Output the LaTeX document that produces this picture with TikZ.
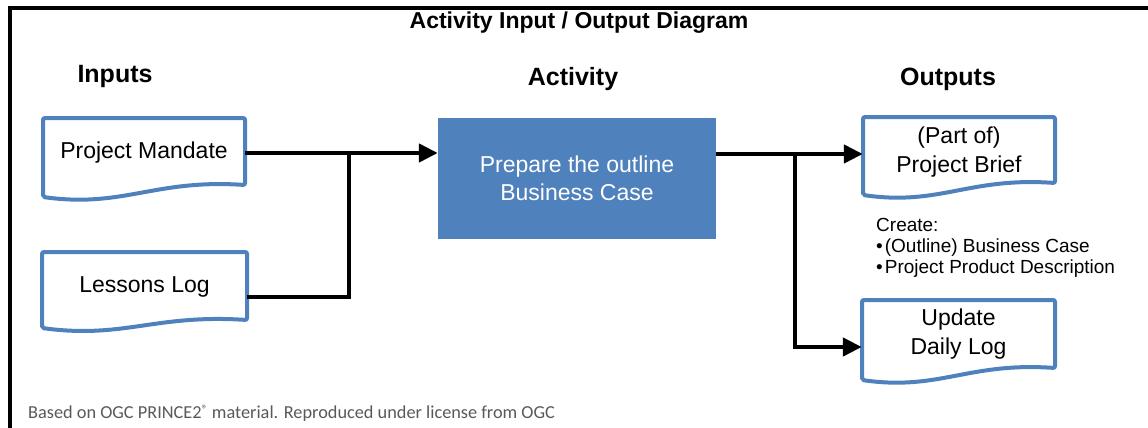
\documentclass[tikz,border=0pt]{standalone}
\usepackage{fontspec}
\setmainfont{Liberation Sans}
\newfontfamily\notefont{Carlito}
\usetikzlibrary{arrows.meta,calc}
\definecolor{docblue}{HTML}{4F81BD}
\definecolor{notegray}{HTML}{595959}
\tikzset{
  doctext/.style={inner sep=0pt, align=center, font=\fontsize{23}{29}\selectfont, text=black},
  docline/.style={draw=docblue, line width=4pt, rounded corners=2pt, fill=white},
  conn/.style={line width=4.5pt, draw=black},
  arr/.style={conn, -{Triangle[length=19pt,width=18pt]}},
  heading/.style={font=\bfseries\fontsize{25}{29}\selectfont, inner sep=0pt},
}
\newcommand{\docshape}[5]{% left, top, right, bottom-right, bottom-left
  \draw[docline] (#1,#2) -- (#3,#2) -- (#3,#4)
    .. controls ({#3-0.45*(#3-#1)},{#4-6}) and ({#1+0.4*(#3-#1)},{#5+11}) .. (#1,#5) -- cycle;
}
\begin{document}
\begin{tikzpicture}[x=1pt,y=-1pt]
\useasboundingbox (0,0) rectangle (1148,428);
% frame
\draw[line width=4pt, black] (10,428) -- (10,8) -- (1150,8);
% title
\node[font=\bfseries\fontsize{23}{27}\selectfont, inner sep=0pt] (title) at (579,23) {Activity Input / Output Diagram};
\node[heading] (hin) at (115,76) {Inputs};
\node[heading] (hact) at (573,79) {Activity};
\node[heading] (hout) at (948,79) {Outputs};
% input documents
\docshape{43}{118}{245}{185}{197}
\node[doctext, minimum width=202pt, minimum height=67pt] (pm) at (144,153) {Project Mandate};
\docshape{42}{252}{247}{320}{328}
\node[doctext, minimum width=205pt, minimum height=68pt] (ll) at (144.5,287) {Lessons Log};
% activity
\node[fill=docblue, minimum width=278pt, minimum height=121pt, inner sep=0pt, align=center,
      text=white, font=\fontsize{23}{28}\selectfont] (act) at (577,178) {Prepare the outline\\Business Case};
% output documents
\docshape{863}{117}{1055}{183}{195}
\node[doctext, minimum width=192pt, minimum height=66pt] (pb) at (959,152) {(Part of)\\Project Brief};
\docshape{862}{300}{1055}{368}{380}
\node[doctext, minimum width=193pt, minimum height=68pt] (dl) at (958.5,334) {Update\\Daily Log};
% create text
\node[anchor=north west, inner sep=0pt, align=left, font=\fontsize{19}{21}\selectfont] (create) at (876,218)
  {Create:\\•\hspace{2pt}(Outline) Business Case\\•\hspace{2pt}Project Product Description};
% connectors
\coordinate (jin) at (349,153);
\coordinate (jout) at (795,154);
\draw[arr] (pm.east) -- (pm.east -| act.west);
\draw[conn, line cap=butt] ([yshift=-10pt]ll.east) -| (jin);
\draw[conn] (act.east |- jout) -- (jout);
\draw[arr] (jout) -- (jout -| pb.west);
\draw[arr] (jout) |- ([yshift=-13pt]dl.west);
% footnote
\node[anchor=base west, inner sep=0pt, text=notegray, font=\notefont\fontsize{18.3}{20}\selectfont] (note) at (28,418)
  {Based on OGC PRINCE2\raisebox{5pt}{\fontsize{12}{12}\selectfont ®} material. Reproduced under license from OGC};
\end{tikzpicture}
\end{document}
